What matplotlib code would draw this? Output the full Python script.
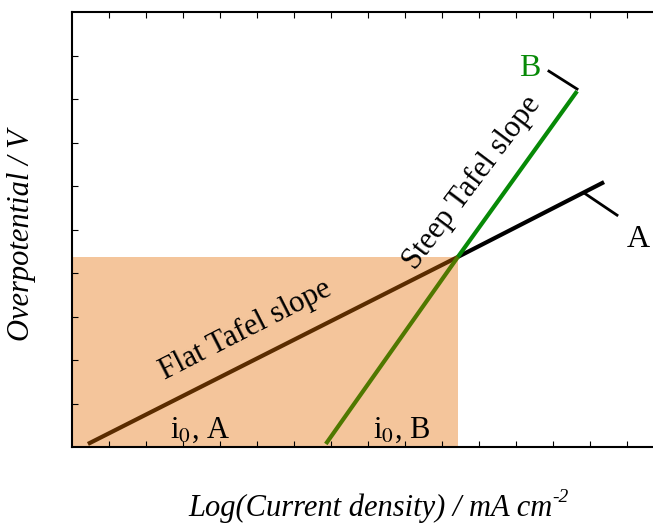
import matplotlib.pyplot as plt

plt.rcParams['font.family'] = ['Liberation Serif', 'DejaVu Serif']
plt.rcParams['mathtext.fontset'] = 'stix'

# log current density (x) and overpotential (y) for the two Tafel lines
x_cross, y_cross = 10.43, 4.37
flat_x = [0.43, x_cross]
flat_y = [0.07, y_cross]
line_a_x = [x_cross, 14.38]
line_a_y = [y_cross, 6.09]
steep_x = [6.86, x_cross]
steep_y = [0.07, y_cross]
line_b_x = [x_cross, 13.65]
line_b_y = [y_cross, 8.18]

fig = plt.figure(figsize=(6.53, 5.24), dpi=100)
ax = fig.add_axes([72 / 653, 77 / 524, 592 / 653, 435 / 524])
ax.set_xlim(0, 16)
ax.set_ylim(0, 10)

# shaded region below the crossing point
ax.axvspan(0, x_cross, ymin=0, ymax=y_cross / 10, color='#F4C59B', lw=0, zorder=0)

ax.plot(flat_x, flat_y, color='#5A2C00', lw=3, solid_capstyle='butt')
ax.plot(line_a_x, line_a_y, color='black', lw=3, solid_capstyle='butt')
ax.plot(steep_x, steep_y, color='#4F7800', lw=3, solid_capstyle='butt')
ax.plot(line_b_x, line_b_y, color='#078A07', lw=3, solid_capstyle='butt')

# leader lines to the A / B labels
ax.plot([12.89, 13.65], [8.64, 8.23], color='black', lw=2)
ax.plot([13.84, 14.73], [5.84, 5.33], color='black', lw=2)
ax.text(12.38, 8.71, 'B', color='#078A07', fontsize=23, ha='center', va='center')
ax.text(15.3, 4.76, 'A', color='black', fontsize=23, ha='center', va='center')

ax.text(4.68, 2.69, 'Flat Tafel slope', fontsize=22, rotation=27,
        ha='center', va='center', rotation_mode='anchor')
ax.text(10.81, 6.07, 'Steep Tafel slope', fontsize=22, rotation=53,
        ha='center', va='center', rotation_mode='anchor')
ax.text(3.46, 0.39, r'i$_{\mathrm{0}}$, A', fontsize=22, ha='center', va='center')
ax.text(8.92, 0.39, r'i$_{\mathrm{0}}$, B', fontsize=22, ha='center', va='center')

ax.set_xticks(range(1, 16))
ax.set_yticks(range(1, 10))
ax.tick_params(direction='in', length=4, width=0.8, top=True, right=True,
               labelbottom=False, labelleft=False)
for s in ax.spines.values():
    s.set_linewidth(1.5)

fig.text(22 / 653, 1 - 235 / 524, 'Overpotential / V', rotation=90, fontsize=22,
         style='italic', ha='center', va='center')
xlab = fig.text(370 / 653, 1 - 508 / 524, 'Log(Current density) / mA cm',
                fontsize=22, style='italic', ha='center', va='center')
fig.canvas.draw()
ax.annotate('-2', xy=(1, 0.85), xycoords=xlab, fontsize=14, style='italic',
            ha='left', va='center', annotation_clip=False)

fig.savefig('out.png', dpi=100)
